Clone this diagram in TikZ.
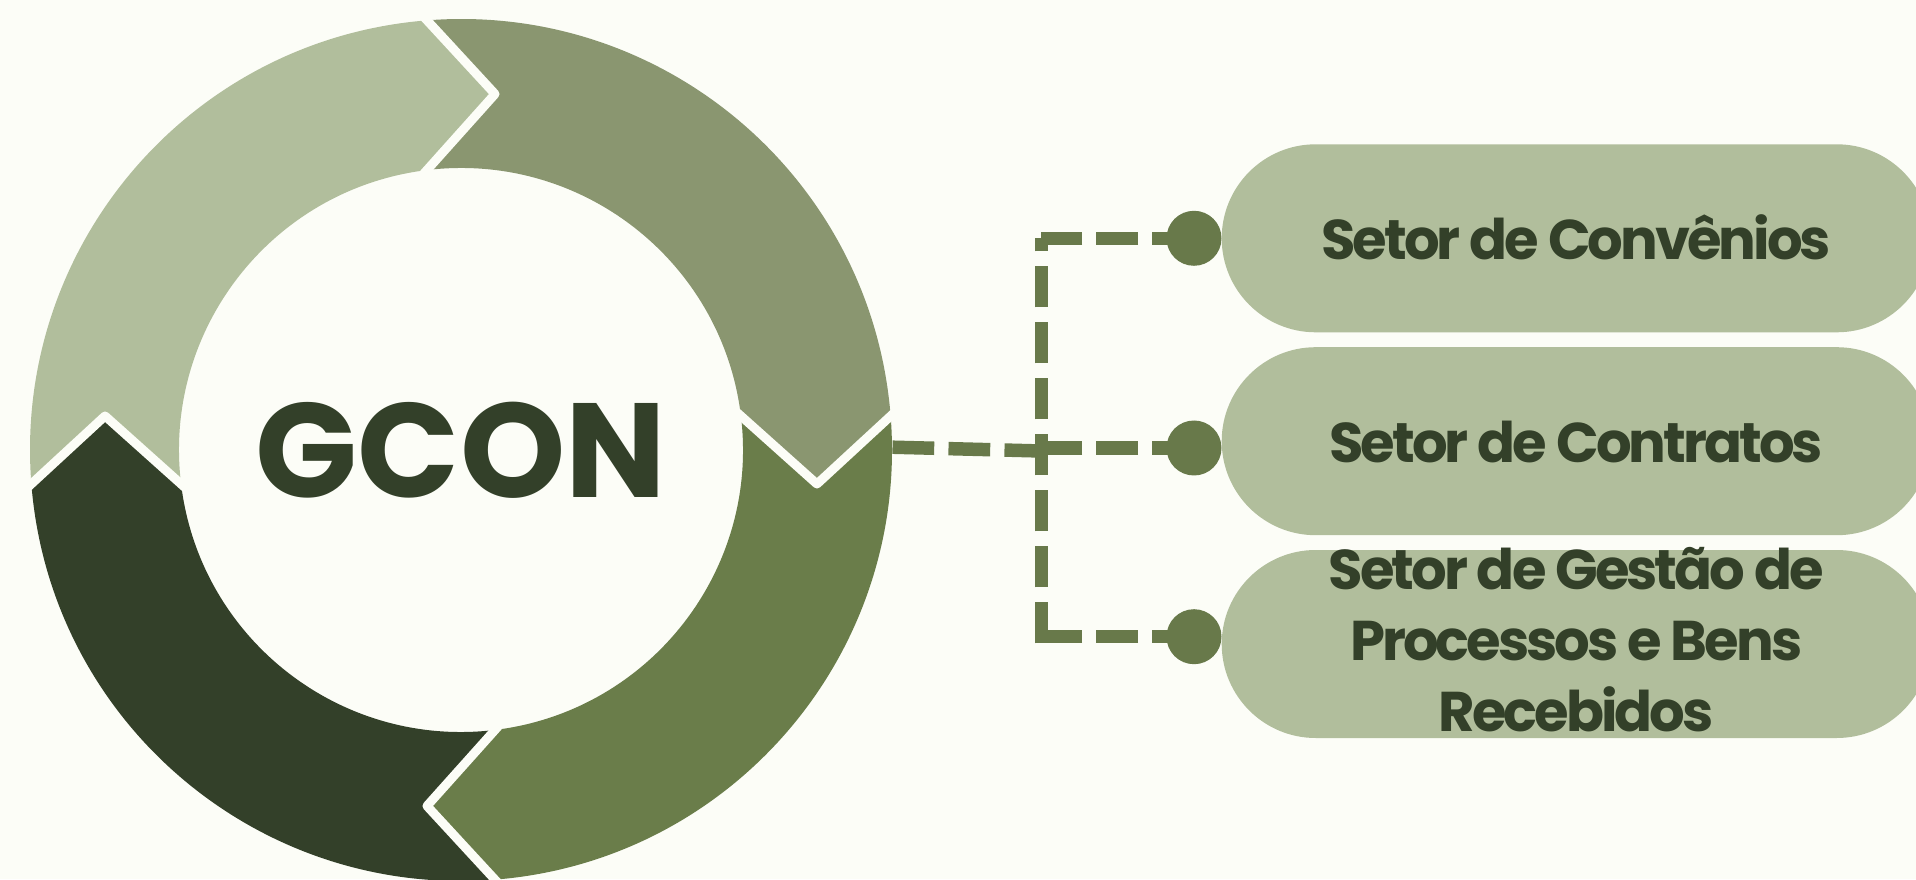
\documentclass[tikz,border=0pt]{standalone}
\usepackage{fontspec}
\setmainfont{Poppins}
\newfontfamily\pillfont{Poppins}[LetterSpace=-5.3]
\definecolor{bgc}{RGB}{252,253,247}
\definecolor{segA}{HTML}{B1BE9C}
\definecolor{segB}{HTML}{8A9670}
\definecolor{segC}{HTML}{6A7D4A}
\definecolor{segD}{HTML}{334029}
\definecolor{txt}{HTML}{334029}
\definecolor{lnc}{HTML}{68794A}
\begin{document}
\begin{tikzpicture}[x=1pt,y=1pt,
  gap/.style={draw=bgc, line width=9pt, line join=round, shorten <=-6pt, shorten >=-6pt},
  dotnode/.style={circle, fill=lnc, minimum size=55pt, inner sep=0pt},
  pill/.style={rectangle, rounded corners=94pt, fill=segA, minimum width=709pt, minimum height=188pt, inner sep=0pt},
  ptext/.style={text=txt, font=\pillfont\fontsize{56}{71}\selectfont\bfseries, align=center, inner sep=0pt},
  conn/.style={draw=lnc, line width=13.5pt, dash pattern=on 41.7pt off 14.3pt}]
\path[use as bounding box] (0,0) rectangle (1916,879);
\clip (0,0) rectangle (1916,879);
\fill[bgc] (0,0) rectangle (1916,879);
\coordinate (C) at (461,429);
\begin{scope}[shift={(C)}]
\foreach \aa/\bb/\cc in {180/90/segA, 90/0/segB, 0/-90/segC, -90/-180/segD}{
  \pgfmathsetmacro\so{\aa+4.52}
  \pgfmathsetmacro\eo{\bb+4.52}
  \pgfmathsetmacro\et{\bb-5.46}
  \pgfmathsetmacro\ei{\bb+6.93}
  \pgfmathsetmacro\si{\aa+6.93}
  \pgfmathsetmacro\st{\aa-5.46}
  \fill[\cc] (\so:431) arc[start angle=\so, end angle=\eo, radius=431pt]
    -- (\et:357.6) -- (\ei:282) arc[start angle=\ei, end angle=\si, radius=282pt]
    -- (\st:357.6) -- cycle;
}
\foreach \aa in {90,0,-90,180}{
  \draw[gap] ({\aa+4.52}:431) -- ({\aa-5.46}:357.6) -- ({\aa+6.93}:282);
}
\end{scope}
\node[text=txt, font=\fontsize{134}{134}\selectfont\bfseries, inner sep=0pt] (g) at (C) {GCON};
% dots
\node[dotnode] (d1) at (1194,640.7) {};
\node[dotnode] (d2) at (1194,431) {};
\node[dotnode] (d3) at (1194,242.3) {};
% bus coordinates
\coordinate (bt) at (1041.3,640.7);
\coordinate (bm) at (1041.3,431);
\coordinate (b3) at (1041.3,242.3);
\coordinate (bb) at (1041.3,235.7);
\coordinate (rs) at (892.5,431.8);
\coordinate (rj) at (1041.3,428);
\draw[conn] (d1.center) -- (bt);
\draw[conn] (d2.center) -- (bm);
\draw[conn] (d3.center) -- (b3);
\draw[conn] (bb) -- (bt);
\draw[conn] (rs) -- (rj);
% pills
\node[pill] (p1) at (1576.2,640.7) {};
\node[pill] (p2) at (1576.2,437.8) {};
\node[pill] (p3) at (1576.2,235) {};
\node[ptext, anchor=base] (t1) at ([yshift=-21.7pt]p1.center) {Setor de Convênios};
\node[ptext, anchor=base] (t2) at ([yshift=-21pt]p2.center) {Setor de Contratos};
\node[ptext] (t3) at ([yshift=4pt]p3.center) {Setor de Gestão de\\Processos e Bens\\Recebidos};
\end{tikzpicture}
\end{document}
